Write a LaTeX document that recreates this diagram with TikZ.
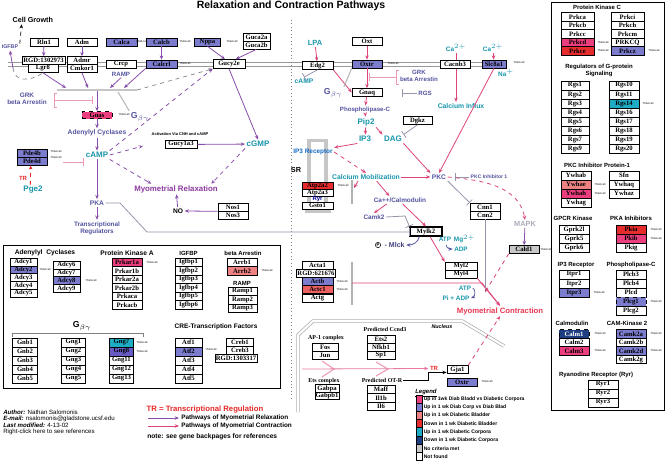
\documentclass[tikz,border=0pt]{standalone}
\usepackage{fontspec}
\setmainfont{Liberation Sans}
\newfontfamily\bxf{Liberation Serif}
\usetikzlibrary{arrows.meta,calc}
\definecolor{cblue}{RGB}{124,124,206}
\definecolor{cpink}{RGB}{234,62,126}
\definecolor{cred}{RGB}{230,44,44}
\definecolor{csalmon}{RGB}{238,130,130}
\definecolor{cteal}{RGB}{30,172,196}
\definecolor{cnavy}{RGB}{30,62,130}
\definecolor{cviolet}{RGB}{104,92,196}
\definecolor{cgray}{RGB}{200,200,200}
\definecolor{tteal}{RGB}{24,150,172}
\definecolor{tslate}{RGB}{84,84,160}
\definecolor{lpurple}{RGB}{136,78,170}
\definecolor{lpink}{RGB}{222,68,122}
\definecolor{trelax}{RGB}{140,58,160}
\definecolor{tcontr}{RGB}{232,56,84}
\definecolor{tred}{RGB}{232,40,40}
\definecolor{lgray}{RGB}{150,150,170}
\tikzset{
  bx/.style={draw=black, line width=0.45pt, fill=white, inner sep=0pt,
    font=\bxf\bfseries\fontsize{5}{5}\selectfont, minimum width=22.5pt, minimum height=6pt},
  bw/.style={minimum width=#1*0.75pt},
  bh/.style={minimum height=#1*0.75pt},
  sm/.style={font=\fontsize{2}{2}\selectfont, inner sep=0pt},
  lab/.style={font=\fontsize{4.6}{5}\selectfont\bfseries, text=tslate, inner sep=1pt, align=center},
  tl/.style={font=\fontsize{6}{6}\selectfont\bfseries, text=tteal, inner sep=1pt},
  hd/.style={font=\fontsize{4.5}{5}\selectfont\bfseries, inner sep=0pt, align=center},
  atip/.style={-{Stealth[length=3.2pt,width=2.6pt]}},
  rel/.style={draw=lpurple, line width=0.6pt, atip},
  con/.style={draw=lpink, line width=0.6pt, atip},
  inh/.style={line width=0.6pt, -{Bar[width=6pt]}},
  nbx/.style={font=\bxf\bfseries\fontsize{4.5}{5}\selectfont, inner sep=0pt},
}
\begin{document}
\begin{tikzpicture}[x=0.75pt,y=-0.75pt]
\useasboundingbox (0,0) rectangle (666,461);
\fill[white] (0,0) rectangle (666,461);
\node[font=\fontsize{7.9}{8}\selectfont\bfseries] (title) at (291,6) {Relaxation and Contraction Pathways};
% membrane and divider
\draw[gray!80, line width=0.5pt] (8,62) -- (506,62) (8,66.5) -- (506,66.5);
\draw[gray, dotted, line width=0.6pt] (291,20) -- (291,400);

% ---------- left top ----------
\node[font=\fontsize{5.4}{6}\selectfont\bfseries, anchor=west, inner sep=1pt] (cellg) at (11,20) {Cell Growth};
\node[lab, font=\fontsize{4}{4}\selectfont\bfseries] (igfbp) at (10,47) {IGFBP};
\draw[dashed, line width=0.5pt, atip] (igfbp.north east) -- ([xshift=8pt]cellg.south west);
\node[bx,bw=28,bh=8] (rln1) at (44,42) {Rln1};
\node[bx,bw=30,bh=8] (adm) at (82,42) {Adm};
\node[bx,bw=31,bh=8,fill=cblue] (calca) at (121.5,42) {Calca};
\node[sm] at (141.5,42) {Yfold-cell};
\node[bx,bw=31,bh=8,fill=cblue] (calcb) at (161.5,42) {Calcb};
\node[sm] at (185,42) {Yfold-cell};
\node[bx,bw=26,bh=8,fill=cblue] (nppa) at (207.5,42) {Nppa};
\node[sm] at (232,42) {Yfold-cell};
\node[bx,bw=27,bh=8] (guca2a) at (256.5,37) {Guca2a};
\node[bx,bw=27,bh=8] (guca2b) at (256.5,45) {Guca2b};
\node[bx,bw=43,bh=8] (rgd1) at (43.5,60.5) {RGD:1302973};
\node[bx,bw=30,bh=8] (lgr8) at (43,68.5) {Lgr8};
\node[bx,bw=30,bh=8] (admr) at (82,60.5) {Admr};
\node[bx,bw=30,bh=8] (cmkor1) at (82,68.5) {Cmkor1};
\node[bx,bw=30,bh=8] (crcp) at (121,64) {Crcp};
\node[lab] (ramp) at (121,74) {RAMP};
\node[bx,bw=31,bh=8,fill=cblue] (calcrl) at (161.5,64) {Calcrl};
\node[sm] at (185,64) {Yfold-cell};
\node[bx,bw=32,bh=9] (gucy2e) at (229,64) {Gucy2e};
\coordinate (igb) at (13,68);
\draw[rel] (igb) -- (igfbp.south);
\draw[gray, dashed, line width=0.5pt] (igb) .. controls (14,82) and (30,82) .. (lgr8.south);
\draw[rel] (rln1) -- (rgd1);
\draw[rel] (adm) -- (admr);
\draw[rel] (calcb) -- (calcrl);
\draw[rel] (nppa.south) -- ([xshift=-3pt]gucy2e.north);
\draw[rel] (guca2b.south) -- ([xshift=5pt]gucy2e.north);

% G protein bar
\coordinate (gl) at (57,90); \coordinate (gr) at (137,90);
\coordinate (g1) at (66,88); \coordinate (g2) at (88,88); \coordinate (g3) at (110,88); \coordinate (g4) at (124,88);
\coordinate (gc) at (97,91); \coordinate (gb0) at (118,92);
\draw[gray!45, line width=1.5pt] (gl) -- (gr);
\draw[rel] (lgr8.south) -- (g1);
\draw[rel] (cmkor1.south) -- (g2);
\draw[rel] (ramp.south) -- (g3);
\draw[rel] (calcrl.south west) -- (g4);
\draw[gray, dashed, line width=0.5pt, atip] (gr) -- (gucy2e.south west);

\node[bx,bw=30,bh=7,fill=cpink,dashed] (gnas) at (97,115) {Gnas};
\node[sm] at (124,115) {Yfold-cell};
\node[font=\fontsize{6.5}{7}\selectfont\bfseries, text=tslate, inner sep=1pt] (gbg) at (140,117) {G$_{\beta\gamma}$};
\draw[rel] (gc) -- (gnas);
\draw[gray!55, line width=0.8pt] (gb0) -- (gbg.north west);

\node[lab,font=\fontsize{4.8}{5.4}\selectfont\bfseries] (grk) at (27,99) {GRK\\beta Arrestin};
\coordinate (gk1) at (57,93); \coordinate (gk2) at (54,93); \coordinate (gk3) at (54,107); \coordinate (gk4) at (57,107);
\coordinate (gkm) at (54,100); \coordinate (gke) at (93,100);
\draw[lpink!55, line width=0.6pt] (gk1) -- (gk2) -- (gk3) -- (gk4);
\draw[inh, draw=lpink!55] (gkm) -- (gke);

\node[lab,font=\fontsize{5}{5}\selectfont\bfseries] (adcy) at (97,133) {Adenylyl Cyclases};
\node[tl] (camp) at (97,155) {cAMP};
\draw[rel] (gnas) -- (adcy);
\draw[rel] (adcy) -- (camp);
\node[bx,bw=30,bh=8,fill=cblue] (pde4b) at (32,153) {Pde4b};
\node[bx,bw=30,bh=8,fill=cblue] (pde4d) at (32,161) {Pde4d};
\node[sm] at (56,152) {Yfold-cell};
\node[sm] at (56,158) {Yfold-cell};
\coordinate (pdl) at (63,162);
\draw[inh, draw=lpink!55] (pdl) -- (camp.west |- pdl);
\node[font=\fontsize{4.5}{5}\selectfont\bfseries, text=tred, inner sep=1pt] (tr1) at (23,178) {TR};
\node[tl] (pge2) at (33,190) {Pge2};
\draw[dashed, draw=tred, line width=0.6pt, atip] ([xshift=-2pt]pge2.north) -- ([xshift=-1pt]pde4d.south);

\node[lab,font=\fontsize{5}{5}\selectfont\bfseries] (pka) at (97,203) {PKA};
\node[lab,font=\fontsize{4.8}{5.4}\selectfont\bfseries] (treg) at (97,228) {Transcriptional\\Regulators};
\draw[rel] (camp) -- (pka);
\draw[rel] (pka) -- (treg);

\node[font=\fontsize{5.9}{6}\selectfont\bfseries, text=trelax, inner sep=1pt] (relax) at (176,189) {Myometrial Relaxation};
\draw[rel, dashed] (camp.south east) -- ([xshift=14pt]relax.north west);
\node[bx,bw=32,bh=8.5] (gucy1a3) at (181,144.5) {Gucy1a3};
\node[font=\fontsize{3}{3}\selectfont\bfseries, inner sep=0pt] (actv) at (180,134) {Activation Via CNH and cAMP};
\coordinate (cge) at (143,146);
\draw[rel, dashed] (camp.east) -- (cge);
\draw[rel, dashed] (camp.north east) -- (gucy2e.south west);
\node[tl] (cgmp) at (258,144) {cGMP};
\draw[rel] (gucy2e.south) -- (cgmp.north);
\draw[rel] (gucy1a3) -- (cgmp);
\draw[rel, dashed] (cgmp.south west) -- ([xshift=-6pt]relax.north east);
\node[font=\fontsize{5}{5}\selectfont\bfseries, inner sep=1pt] (no) at (178,211) {NO};
\draw[rel] (no) -- (relax);
\node[bx,bw=30,bh=8] (nos1) at (233,207) {Nos1};
\node[bx,bw=30,bh=8] (nos3) at (233,215) {Nos3};
\draw[rel] (nos1.south west) -- (no.east);

% ---------- right middle ----------
\node[tl,font=\fontsize{5.6}{6}\selectfont\bfseries] (lpa) at (315,43) {LPA};
\node[tl,font=\fontsize{4.8}{5}\selectfont\bfseries] (ca1) at (456,48) {Ca$^{2+}$};
\node[tl,font=\fontsize{4.8}{5}\selectfont\bfseries] (ca2) at (493,48) {Ca$^{2+}$};
\node[tl,font=\fontsize{4.8}{5}\selectfont\bfseries] (na) at (506,73) {Na$^{+}$};
\node[tl,font=\fontsize{5.1}{5}\selectfont\bfseries] (influx) at (461,106) {Calcium Influx};
\draw[con] (ca1) -- (ca1 |- influx.north);
\node[bx,bw=31,bh=8] (edg2) at (317.5,65.5) {Edg2};
\node[bx,bw=30,bh=8] (oxt) at (367,41.5) {Oxt};
\node[bx,bw=30,bh=8,fill=cblue] (oxtr) at (367,64) {Oxtr};
\node[sm] at (393,64) {Yfold-cell};
\node[bx,bw=30,bh=8] (cacnb3) at (455,64) {Cacnb3};
\node[bx,bw=24,bh=8,fill=cblue] (slc8a1) at (494,64) {Slc8a1};
\node[sm] at (519,63) {Yfold-cell};
\draw[con] (ca2) -- (slc8a1);
\node[tl,font=\fontsize{5}{5}\selectfont\bfseries] (camp2) at (304,81) {cAMP};
\node[font=\fontsize{6.5}{7}\selectfont\bfseries, text=tslate, inner sep=1pt] (gbg2) at (333,93) {G$_{\beta\gamma}$};
\node[bx,bw=30,bh=8] (gnaq) at (367,92.5) {Gnaq};
\node[lab] (grk2) at (419,76) {GRK\\beta Arrestin};
\node[lab] (rgs) at (425,93) {RGS};
\node[lab] (plc) at (365,110) {Phospholipase-C};
\node[tl] (pip2) at (366,122) {Pip2};
\node[tl] (ip3) at (365,139) {IP3};
\node[tl] (dag) at (393,139) {DAG};
\node[bx,bw=29,bh=8] (dgkz) at (417.5,120.5) {Dgkz};
\draw[con] (lpa) -- (edg2);
\draw[con] (oxt) -- (oxtr);
\draw[con] (oxtr) -- (gnaq);
\draw[con] (edg2.south east) -- (gnaq.west);
\draw[inh, draw=lgray] (edg2.south) -- (camp2.north);
\draw[gray!55, line width=0.8pt] (oxtr.south west) -- (gbg2.north east);
\coordinate (gk5) at (399,70); \coordinate (gk6) at (396,70); \coordinate (gk7) at (396,84); \coordinate (gk8) at (399,84);
\coordinate (gkm2) at (396,77); \coordinate (gke2) at (369,77);
\draw[lpink!55, line width=0.6pt] (gk5) -- (gk6) -- (gk7) -- (gk8);
\draw[inh, draw=lpink!55] (gkm2) -- (gke2);
\coordinate (rgb) at (402,93);
\draw[inh, draw=lgray] (rgs.west) -- (rgb);
\draw[con] (gnaq) -- (plc);
\draw[con] (plc) -- (pip2);
\draw[con] (pip2) -- (ip3);
\draw[con] (pip2.south east) -- (dag.north west);
\draw[inh, draw=lgray] (dgkz.south) -- (dag.north east);

\node[lab,font=\fontsize{5}{5}\selectfont\bfseries] (pkc) at (439,177) {PKC};
\node[tl,font=\fontsize{5.1}{5}\selectfont\bfseries] (calmob) at (366,177) {Calcium Mobilization};
\draw[con] (dag.south east) -- (pkc.north west);
\draw[con] (slc8a1.south) -- (pkc.north);
\draw[con] (calmob) -- (pkc);
\node[lab,font=\fontsize{3.8}{4}\selectfont\bfseries] (pkcinh) at (489,177) {PKC Inhibitor 1};
\coordinate (pkb) at (455,177);
\draw[inh, draw=lgray] (pkcinh.west) -- (pkb);

% SR
\fill[gray!45] (307,139) rectangle (328,142);
\fill[gray!45] (307,142) rectangle (311,212);
\fill[gray!45] (324,142) rectangle (328,212);
\fill[gray!45] (305,209) rectangle (331,213);
\node[font=\fontsize{4.8}{5}\selectfont\bfseries, text=tteal!70!blue, inner sep=1pt] (ip3r) at (313,152) {IP3 Receptor};
\draw[con] (ip3.south west) -- (ip3r.north east);
\node[font=\fontsize{5.5}{6}\selectfont\bfseries, inner sep=1pt] (sr) at (296,170) {SR};
\node[bx,bw=31,bh=7,fill=cred] (atp2a2) at (317.5,185.5) {Atp2a2};
\node[bx,bw=31,bh=7] (atp2a3) at (317.5,192.5) {Atp2a3};
\node[sm] at (343,186) {Yfold-cell};
\node[lab,font=\fontsize{4.5}{5}\selectfont\bfseries, text=blue!60!black] (ryr) at (317.5,199) {Ryr};
\node[bx,bw=31,bh=7] (gsto1) at (317.5,205.5) {Gsto1};
\coordinate (sb1) at (352,180); \coordinate (sb2) at (352,204); \coordinate (sbp) at (354,188);
\draw[gray!60, line width=0.8pt] (sb1) -- (sb2);
\draw[con] ([xshift=-6pt]calmob.south) -- (sbp);
\draw[con, dashed] (ip3r.east) -- (calmob.north);

\node[lab,font=\fontsize{4.8}{5}\selectfont\bfseries] (cacalm) at (400,200) {Ca++/Calmodulin};
\node[lab,font=\fontsize{4.8}{5}\selectfont\bfseries] (camk2) at (374,217) {Camk2};
\draw[con] ([xshift=8pt]calmob.south) -- ([xshift=-8pt]cacalm.north);
\draw[con] ([xshift=-10pt]cacalm.south) -- (camk2.north);
\node[bx,bw=32,bh=9,line width=0.9pt] (mylk2) at (426,231.5) {Mylk2};
\draw[con] ([xshift=2pt]cacalm.south) -- (mylk2.north);
\coordinate (ck1) at (405,216);
\draw[inh, draw=lgray] (camk2.east) -- (ck1) -- (mylk2.north west);
\coordinate (pk1) at (120,203); \coordinate (pk2) at (147,232);
\draw[inh, draw=lgray] (pka.east) -- (pk1) -- (pk2) -- (mylk2.west |- pk2);

\node[draw, circle, inner sep=0.4pt, line width=0.4pt, font=\fontsize{3}{3}\selectfont\bfseries] (pcirc) at (378,245) {P};
\node[font=\fontsize{5.3}{5}\selectfont\bfseries, text=tslate!80!black, anchor=west, inner sep=1pt] (mlck) at (383,245) {- Mlck};
\draw[draw=tslate, line width=0.6pt, atip] ([xshift=-5pt]mylk2.south) to[out=-100,in=0] (mlck.east);
\node[tl,font=\fontsize{4.8}{5}\selectfont\bfseries] (atp1) at (457,239) {ATP\, Mg$^{2+}$};
\node[tl,font=\fontsize{4.8}{5}\selectfont\bfseries] (adp1) at (461,249) {ADP};
\draw[draw=tslate, line width=0.5pt, atip] ([xshift=-8pt]atp1.south) to[out=-100,in=180] (adp1.west);
\node[bx,bw=32,bh=8] (myl2) at (461,266) {Myl2};
\node[bx,bw=32,bh=8] (myl4) at (461,274) {Myl4};
\draw[con] ([xshift=3pt]mylk2.south) -- (myl2.north west);
\node[tl,font=\fontsize{4.8}{5}\selectfont\bfseries] (atp2) at (465,288) {ATP};
\node[tl,font=\fontsize{4.8}{5}\selectfont\bfseries] (piadp) at (456,298) {Pi + ADP};
\draw[draw=tslate, line width=0.5pt, atip] (atp2.east) to[out=-30,in=20] (piadp.east);
\node[font=\fontsize{5.8}{6}\selectfont\bfseries, text=tcontr, inner sep=1pt] (contr) at (500,311) {Myometrial Contraction};
\draw[con] (myl4.south east) -- (contr.north);

\node[bx,bw=31,bh=8] (acta1) at (317.5,265.5) {Acta1};
\node[bx,bw=39,bh=8] (rgd2) at (316,273.5) {RGD:621676};
\node[bx,bw=31,bh=8,fill=cblue] (actb) at (317.5,281.5) {Actb};
\node[bx,bw=31,bh=8,fill=cred!75] (actc1) at (317.5,289.5) {Actc1};
\node[bx,bw=31,bh=8] (actg) at (317.5,298.5) {Actg};
\node[sm] at (342,282) {Yfold-cell};
\node[sm] at (342,290) {Yfold-cell};
\coordinate (ab1) at (352,262); \coordinate (ab2) at (352,305);
\coordinate (abm) at (352,283); \coordinate (abr) at (482,283);
\draw[gray!60, line width=0.8pt] (ab1) -- (ab2);
\draw[con] (abm) -- (abr) -- (contr.north);

\node[bx,bw=30,bh=8] (cnn1) at (485,207) {Cnn1};
\node[bx,bw=30,bh=8] (cnn2) at (485,215) {Cnn2};
\draw[inh, draw=lgray] (pkc.south east) -- (cnn1.north west);
\coordinate (cj) at (485,292);
\draw[lgray, line width=0.6pt] (cnn2.south) -- (cj);
\node[font=\fontsize{5.5}{6}\selectfont\bfseries, text=lgray!80, inner sep=1pt] (mapk) at (525,224) {MAPK};
\draw[con, dashed] (pkc.east) to[out=-5,in=100] (mapk.north);
\node[bx,bw=30,bh=8,fill=cgray] (cald1) at (524,249.5) {Cald1};
\node[sm] at (546,250) {Yfold-cell};
\draw[rel] (mapk) -- (cald1);
\draw[con, dashed] (cald1.south west) -- (cj);

% ---------- nucleus ----------
\draw[gray!70, double=white, double distance=1.6pt, line width=0.5pt] (298,412) -- (298,335) -- (313,321) -- (462,321) -- (504,346);
\node[font=\fontsize{4}{4}\selectfont\itshape\bfseries, inner sep=0pt] (nuc) at (442,327) {Nucleus};
\node[nbx] (ap1) at (326,338) {AP-1 complex};
\node[bx,bw=26,bh=8] (fos) at (325,347) {Fos};
\node[bx,bw=26,bh=8] (jun) at (325,355) {Jun};
\node[nbx] (ccnd) at (385,329) {Predicted Ccnd3};
\node[bx,bw=28,bh=8] (ets2) at (381,339) {Ets2};
\node[bx,bw=28,bh=8] (nfkb1) at (381,347) {Nfkb1};
\node[bx,bw=28,bh=8] (sp1) at (381,355) {Sp1};
\node[nbx] (etsc) at (324,381) {Ets complex};
\node[bx,bw=24,bh=7.5] (gabpa) at (327,388.5) {Gabpa};
\node[bx,bw=24,bh=7.5] (gabpb1) at (327,396) {Gabpb1};
\node[nbx] (otr) at (382,380) {Predicted OT-R};
\node[bx,bw=28,bh=8.5] (maff) at (381,389.5) {Maff};
\node[bx,bw=28,bh=8.5] (il1b) at (381,398) {Il1b};
\node[bx,bw=28,bh=8.5] (il6) at (381,406.5) {Il6};
\node[font=\fontsize{4.5}{5}\selectfont\bfseries, text=tred, inner sep=1pt] (tr2) at (434,368.5) {TR};
\node[bx,bw=21,bh=8] (gja1) at (457.5,369.5) {Gja1};
\node[bx,bw=30,bh=8,fill=cblue] (oxtr2) at (462,382) {Oxtr};
\node[sm] at (487,382) {Yfold-cell};
\coordinate (ch1a) at (322,361); \coordinate (ch1m) at (334,369); \coordinate (ch1b) at (322,377);
\coordinate (ch2a) at (376,362); \coordinate (ch2m) at (388,369); \coordinate (ch2b) at (376,376);
\coordinate (chs) at (302,369);
\draw[lpink!50, line width=0.9pt] (ch1a) -- (ch1m) -- (ch1b) (ch2a) -- (ch2m) -- (ch2b);
\draw[con, draw=lpink!70] (chs) -- (tr2.west);
\coordinate (ot1) at (428,380);
\draw[line width=0.5pt, atip] (otr.east) -- (ot1) |- ([yshift=-2.2pt]gja1.west);
\draw[con, dashed] (gja1.north east) -- (contr.south);

% ---------- legend ----------
\node[font=\fontsize{4.5}{5}\selectfont\bfseries\itshape, inner sep=0pt, anchor=west] (legt) at (415,393) {\underline{Legend}};
\foreach \c/\t [count=\i from 0] in {cpink/Up in 1wk Diab Bladd vs Diabetic Corpora, cblue/Up in 1 wk Diab Corp vs Diab Blad, csalmon/Up in 1 wk Diabetic Bladder, cred/Down in 1 wk Diabetic Bladder, cteal/Up in 1 wk Diabetic Corpora, cnavy/Down in 1 wk Diabetic Corpora, cgray/No criteria met, white/Not found}{
  \node[draw, line width=0.4pt, fill=\c, minimum width=4.5pt, minimum height=6.1pt, inner sep=0pt] (lg\i) at (419,{399+8.2*\i}) {};
  \node[font=\fontsize{3.8}{4}\selectfont\bfseries, anchor=west, inner sep=0pt] (lt\i) at (423.5,{399+8.2*\i}) {\t};
}

% ---------- bottom-left notes ----------
\node[font=\fontsize{5.8}{6}\selectfont\bfseries, text=tred, inner sep=0pt] (trl) at (205,410) {TR = Transcriptional Regulation};
\coordinate (lp1) at (148,418); \coordinate (lp2) at (179,418);
\coordinate (lc1) at (148,426); \coordinate (lc2) at (179,426);
\draw[rel] (lp1) -- (lp2);
\draw[con] (lc1) -- (lc2);
\node[font=\fontsize{4.8}{5}\selectfont\bfseries, anchor=west, inner sep=0pt] (ltr) at (181,418) {Pathways of Myometrial Relaxation};
\node[font=\fontsize{4.8}{5}\selectfont\bfseries, anchor=west, inner sep=0pt] (ltc) at (181,426) {Pathways of Myometrial Contraction};
\node[font=\fontsize{5}{5}\selectfont\bfseries, anchor=west, inner sep=0pt] (note) at (147,437) {note: see gene backpages for references};
\node[font=\fontsize{4.6}{5}\selectfont, anchor=west, inner sep=0pt] (au1) at (3,412) {\textbf{\textit{Author:}} Nathan Salomonis};
\node[font=\fontsize{4.6}{5}\selectfont, anchor=west, inner sep=0pt] (au2) at (3,418.5) {\textbf{\textit{E-mail:}} nsalomonis@gladstone.ucsf.edu};
\node[font=\fontsize{4.6}{5}\selectfont, anchor=west, inner sep=0pt] (au3) at (3,425) {\textbf{\textit{Last modified:}} 4-13-02};
\node[font=\fontsize{4.6}{5}\selectfont, anchor=west, inner sep=0pt] (au4) at (3,431.5) {Right-click here to see references};

% ---------- lower-left panel ----------
\draw[line width=0.6pt] (3,245) rectangle (280,388);
\node[hd,font=\fontsize{5}{5}\selectfont\bfseries] (hadcy) at (45,253) {Adenylyl \ Cyclases};
\foreach \l/\c [count=\i from 0] in {Adcy1/white,Adcy2/cblue,Adcy3/white,Adcy4/white,Adcy5/white}
  \node[bx,bw=27,bh=7.8,fill=\c] (adl\i) at (23.5,{262+7.8*\i}) {\l};
\foreach \l/\c [count=\i from 0] in {Adcy6/white,Adcy7/white,Adcy8/cblue,Adcy9/white}
  \node[bx,bw=27,bh=7.8,fill=\c] (adr\i) at (66.5,{265+7.8*\i}) {\l};
\node[sm] at (45,270) {Yfold-cell};
\node[sm] at (91,280.6) {Yfold-cell};
\node[hd,font=\fontsize{5}{5}\selectfont\bfseries] (hpka) at (127,253) {Protein Kinase A};
\foreach \l/\c [count=\i from 0] in {Prkar1a/cpink,Prkar1b/white,Prkar2a/white,Prkar2b/white,Prkaca/white,Prkacb/white}
  \node[bx,bw=30,bh=8.5,fill=\c] (pka\i) at (127,{262.3+8.5*\i}) {\l};
\node[sm] at (152,262.3) {Yfold-cell};
\node[hd] (higf) at (188.5,253) {IGFBP};
\foreach \l [count=\i from 0] in {Igfbp1,Igfbp2,Igfbp3,Igfbp4,Igfbp5,Igfbp6}
  \node[bx,bw=27,bh=8.5] (igf\i) at (188.5,{262.3+8.5*\i}) {\l};
\node[hd] (harr) at (243,253) {beta Arrestin};
\node[bx,bw=30,bh=8.5] (arrb1) at (242,262.3) {Arrb1};
\node[bx,bw=30,bh=8.5,fill=csalmon] (arrb2) at (242,270.8) {Arrb2};
\node[sm] at (267,270.8) {Yfold-cell};
\node[hd] (hramp) at (242,283) {RAMP};
\foreach \l [count=\i from 0] in {Ramp1,Ramp2,Ramp3}
  \node[bx,bw=29,bh=8.5] (ramp\i) at (242.5,{291.3+8.5*\i}) {\l};
\node[font=\fontsize{6.5}{7}\selectfont\bfseries, inner sep=0pt] (hgbg) at (82,326) {G$_{\beta\gamma}$};
\draw[gray, line width=0.6pt] (12,337) -- (12,333) -- (143,333) -- (143,337);
\foreach \l [count=\i from 0] in {Gnb1,Gnb2,Gnb3,Gnb4,Gnb5}
  \node[bx,bw=25,bh=9] (gnb\i) at (25,{342.5+9*\i}) {\l};
\foreach \l [count=\i from 0] in {Gng1,Gng2,Gng3,Gng4,Gng5}
  \node[bx,bw=24,bh=9] (gngl\i) at (73.5,{342.5+9*\i}) {\l};
\foreach \l/\c [count=\i from 0] in {Gng7/cteal,Gng8/cviolet,Gng11/white,Gng12/white,Gng13/white}
  \node[bx,bw=24,bh=9,fill=\c] (gngr\i) at (121.5,{342.5+9*\i}) {\l};
\node[sm] at (142,342.5) {Yfold-cell};
\node[sm] at (142,351.5) {Yfold-cell};
\node[hd,font=\fontsize{4.9}{5}\selectfont\bfseries] (hcre) at (216,327) {CRE-Transcription Factors};
\foreach \l/\c [count=\i from 0] in {Atf1/white,Atf2/cblue,Atf3/white,Atf4/white,Atf5/white}
  \node[bx,bw=27,bh=9,fill=\c] (atf\i) at (188.5,{342.5+9*\i}) {\l};
\node[bx,bw=27,bh=8] (creb1) at (240,342) {Creb1};
\node[bx,bw=27,bh=8] (creb3) at (240,350) {Creb3};
\node[bx,bw=42,bh=8] (rgd3) at (236,358.5) {RGD:1303317};
\node[sm] at (211,350) {Yfold-cell};

% ---------- right panel ----------
\draw[line width=0.5pt] (551,2) rectangle (664,410);
\node[hd] (hpkc) at (597,7) {Protein Kinase C};
\foreach \l/\c [count=\i from 0] in {Prkca/white,Prkcb/white,Prkcc/white,Prkcd/cpink,Prkce/cred}
  \node[bx,bw=33,bh=8.5,fill=\c] (pkl\i) at (577.5,{17+8.5*\i}) {\l};
\foreach \l/\c [count=\i from 0] in {Prkci/white,Prkch/white,Prkcm/white,PRKCQ/white,Prkcz/cblue}
  \node[bx,bw=33,bh=8.5,fill=\c] (pkr\i) at (627.5,{17+8.5*\i}) {\l};
\node[sm] at (603,42.5) {Yfold-cell};
\node[sm] at (603,51) {Yfold-cell};
\node[sm] at (654,51) {Yfold-cell};
\node[hd] (hrgs) at (599,70.5) {Regulators of G-protein\\Signaling};
\foreach \l [count=\i from 0] in {Rgs1,Rgs2,Rgs3,Rgs4,Rgs5,Rgs6,Rgs7,Rgs9}
  \node[bx,bw=28,bh=9.1] (rgl\i) at (575,{85.5+9.1*\i}) {\l};
\foreach \l/\c [count=\i from 0] in {Rgs10/white,Rgs11/white,Rgs14/cteal,Rgs16/white,Rgs17/white,Rgs18/white,Rgs19/white,Rgs20/white}
  \node[bx,bw=30,bh=9.1,fill=\c] (rgr\i) at (624,{85.5+9.1*\i}) {\l};
\node[sm] at (648,103.7) {Yfold-cell};
\node[hd] (hywh) at (597,165) {PKC Inhibitor Protein-1};
\foreach \l/\c [count=\i from 0] in {Ywhab/white,Ywhae/csalmon,Ywhah/cpink,Ywhag/white}
  \node[bx,bw=30,bh=9,fill=\c] (ywl\i) at (576,{175.5+9*\i}) {\l};
\foreach \l [count=\i from 0] in {Sfn,Ywhaq,Ywhaz}
  \node[bx,bw=30,bh=9] (ywr\i) at (624,{175.5+9*\i}) {\l};
\node[sm] at (600,184.5) {Yfold-cell};
\node[sm] at (600,193.5) {Yfold-cell};
\node[hd] (hgpcr) at (573,218) {GPCR Kinase};
\node[hd] (hpki) at (631,218) {PKA Inhibitors};
\foreach \l [count=\i from 0] in {Gprk2l,Gprk5,Gprk6}
  \node[bx,bw=30,bh=9] (gprk\i) at (574,{229.5+9*\i}) {\l};
\foreach \l/\c [count=\i from 0] in {Pkia/cred,Pkib/cpink,Pkig/white}
  \node[bx,bw=30,bh=9,fill=\c] (pki\i) at (631,{229.5+9*\i}) {\l};
\node[sm] at (656,229.5) {Yfold-cell};
\node[sm] at (656,238.5) {Yfold-cell};
\node[hd] (hitpr) at (576,265) {IP3 Receptor};
\node[hd] (hplc) at (631,265) {Phospholipase-C};
\foreach \l/\c [count=\i from 0] in {Itpr1/white,Itpr2/white,Itpr3/cblue}
  \node[bx,bw=30,bh=9,fill=\c] (itpr\i) at (574,{274.5+9*\i}) {\l};
\node[sm] at (599,292.5) {Yfold-cell};
\foreach \l [count=\i from 0] in {Plcb3,Plcb4,Plcd}
  \node[bx,bw=30,bh=9] (plcn\i) at (631,{274.5+9*\i}) {\l};
\node[bx,bw=30,bh=9,fill=cblue,dashed] (plcg1) at (631,301.5) {Plcg1};
\node[bx,bw=30,bh=9] (plcg2) at (631,310.5) {Plcg2};
\node[sm] at (656,301.5) {Yfold-cell};
\node[hd] (hcalm) at (572,323) {Calmodulin};
\node[hd] (hcamk) at (627,323) {CAM-Kinase 2};
\node[bx,bw=30,bh=8.5,fill=cnavy,dashed,text=white] (calm1) at (574,334) {Calm1};
\node[bx,bw=30,bh=8.5] (calm2) at (574,342.5) {Calm2};
\node[bx,bw=30,bh=8.5,fill=cpink] (calm3) at (574,351) {Calm3};
\node[sm] at (600,334) {Yfold-cell};
\node[sm] at (600,351) {Yfold-cell};
\foreach \l/\c [count=\i from 0] in {Camk2a/cblue,Camk2b/white,Camk2d/cblue,Camk2g/white}
  \node[bx,bw=30,bh=8.5,fill=\c] (camk\i) at (631,{334+8.5*\i}) {\l};
\node[sm] at (656,334) {Yfold-cell};
\node[sm] at (656,351) {Yfold-cell};
\node[hd] (hryr) at (596,375) {Ryanodine Receptor (Ryr)};
\foreach \l [count=\i from 0] in {Ryr1,Ryr2,Ryr3}
  \node[bx,bw=30,bh=9] (ryrb\i) at (603,{384.5+9*\i}) {\l};
\end{tikzpicture}
\end{document}
